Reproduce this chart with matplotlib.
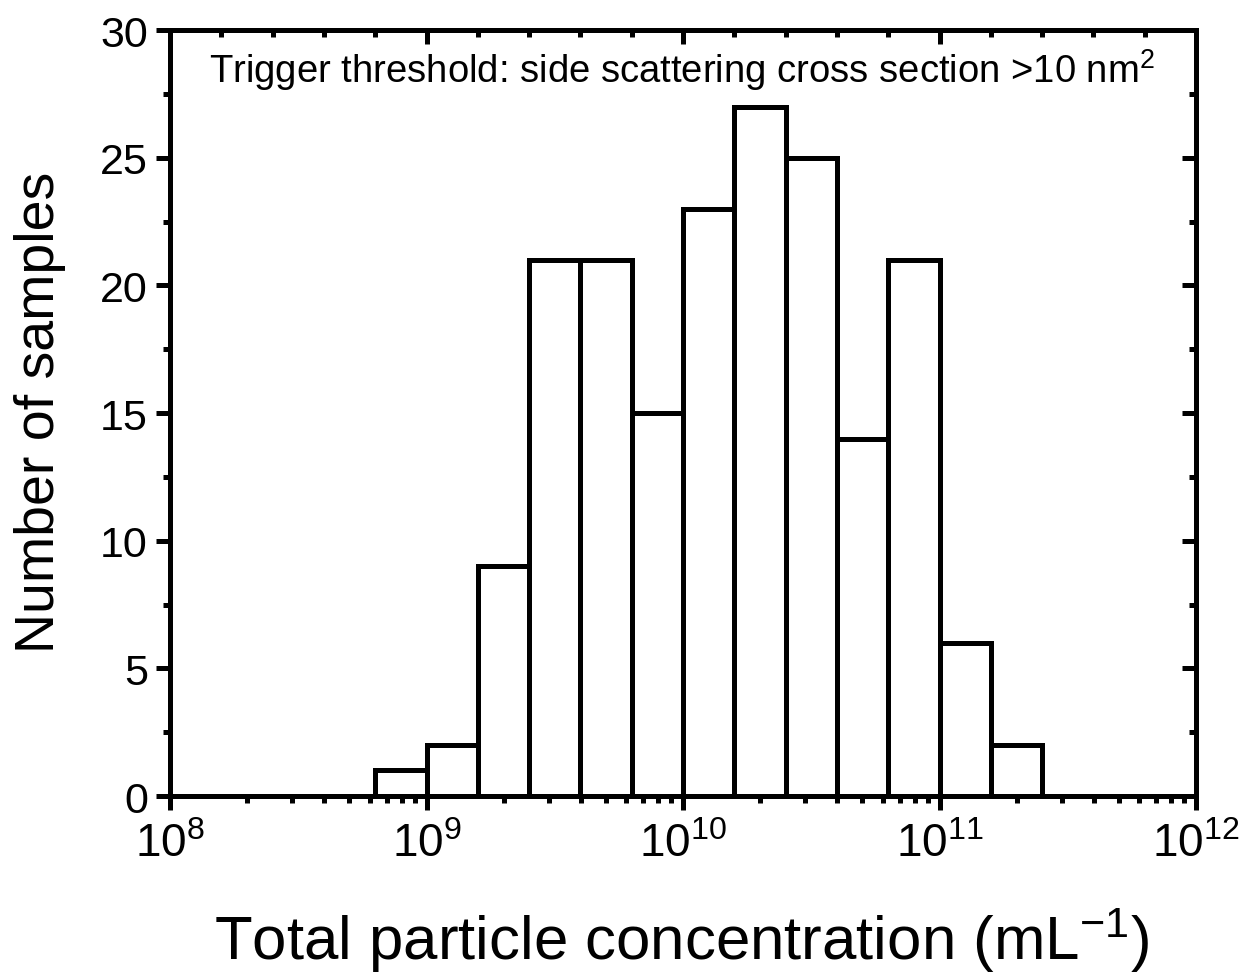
import numpy as np
import matplotlib
matplotlib.use("Agg")
import matplotlib.pyplot as plt
from matplotlib.ticker import LogLocator, MultipleLocator, FixedLocator, NullFormatter

plt.rcParams['font.family'] = ['Liberation Sans', 'DejaVu Sans']
plt.rcParams['mathtext.fontset'] = 'custom'
plt.rcParams['mathtext.rm'] = 'Liberation Sans'
plt.rcParams['mathtext.it'] = 'Liberation Sans:italic'

# Bin edges in log10 units and counts
bin_edges_log = [8.8, 9.0, 9.2, 9.4, 9.6, 9.8, 10.0, 10.2, 10.4, 10.6, 10.8, 11.0, 11.2, 11.4]
counts = [1, 2, 9, 21, 21, 15, 23, 27, 25, 14, 21, 6, 2]
xtick_labels = [r'$\mathregular{10^{8}}$', r'$\mathregular{10^{9}}$', r'$\mathregular{10^{10}}$',
                r'$\mathregular{10^{11}}$', r'$\mathregular{10^{12}}$']
xtick_values = [1e8, 1e9, 1e10, 1e11, 1e12]
top_minor_log = [8.2, 8.4, 8.6, 8.8, 9.2, 9.4, 9.6, 9.8, 10.2, 10.4, 10.6, 10.8,
                 11.2, 11.4, 11.6, 11.8]

edges = 10.0 ** np.array(bin_edges_log)
centers = np.sqrt(edges[:-1] * edges[1:])

LW = 3.6
fig = plt.figure(figsize=(12.49, 9.79), dpi=100)
ax = fig.add_axes([0.1361, 0.1859, 0.8215, 0.7824])

ax.hist(centers, bins=edges, weights=counts, facecolor='white', edgecolor='black',
        linewidth=LW, histtype='bar')

ax.set_xscale('log')
ax.set_xlim(1e8, 1e12)
ax.set_ylim(0, 30)

ax.xaxis.set_major_locator(FixedLocator(xtick_values))
ax.set_xticklabels(xtick_labels)
ax.xaxis.set_minor_locator(LogLocator(base=10, subs=np.arange(2, 10), numticks=100))
ax.xaxis.set_minor_formatter(NullFormatter())
ax.yaxis.set_major_locator(MultipleLocator(5))
ax.yaxis.set_minor_locator(MultipleLocator(2.5))

for s in ax.spines.values():
    s.set_linewidth(LW)

ax.tick_params(axis='both', which='major', direction='out', length=10, width=LW)
ax.tick_params(axis='both', which='minor', direction='out', length=5, width=LW)
ax.tick_params(axis='y', which='major', labelsize=31, pad=6)
ax.tick_params(axis='x', which='major', labelsize=33, pad=9)

# Mirrored inward ticks on top/right
axt = ax.secondary_xaxis('top')
axt.xaxis.set_major_locator(FixedLocator(xtick_values))
axt.xaxis.set_minor_locator(FixedLocator(10.0 ** np.array(top_minor_log)))
axt.xaxis.set_major_formatter(NullFormatter())
axt.xaxis.set_minor_formatter(NullFormatter())
axt.tick_params(which='major', direction='in', length=10, width=LW, labeltop=False)
axt.tick_params(which='minor', direction='in', length=5, width=LW)
axt.spines['top'].set_linewidth(LW)
axr = ax.secondary_yaxis('right')
axr.yaxis.set_major_locator(MultipleLocator(5))
axr.yaxis.set_minor_locator(MultipleLocator(2.5))
axr.tick_params(which='major', direction='in', length=10, width=LW, labelright=False)
axr.tick_params(which='minor', direction='in', length=5, width=LW)
axr.spines['right'].set_linewidth(LW)

ax.text(0.499, 0.932, r'Trigger threshold: side scattering cross section >10 nm$^{\mathregular{2}}$',
        transform=ax.transAxes, ha='center', va='baseline', fontsize=27.5)

fig.text(681.5 / 1249, 1 - 960 / 979, r'Total particle concentration (mL$^{\mathregular{-1}}$)',
         ha='center', va='baseline', fontsize=44.5)
fig.text(40 / 1249, 1 - 412 / 979, 'Number of samples', rotation=90,
         ha='center', va='center', fontsize=40)

fig.savefig('out.png', dpi=100)
